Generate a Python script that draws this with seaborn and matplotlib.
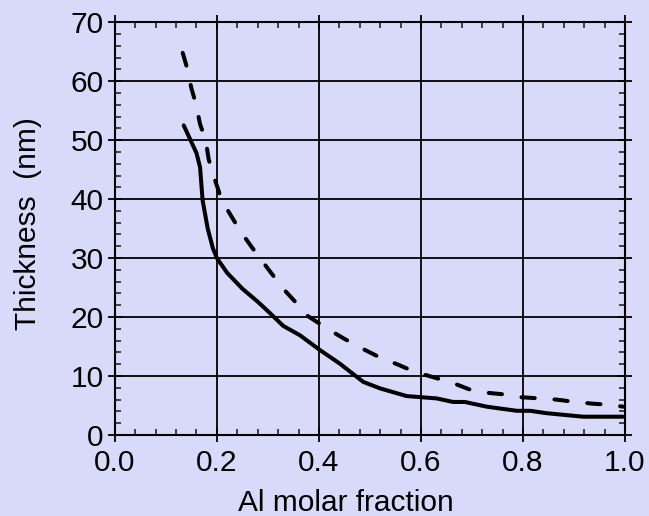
import numpy as np
import pandas as pd
import matplotlib
matplotlib.use("Agg")
import matplotlib.pyplot as plt
import seaborn as sns
from matplotlib.ticker import MultipleLocator

# --- data ---
x_solid = [0.135, 0.16, 0.167, 0.172, 0.182, 0.192, 0.2, 0.22, 0.25, 0.28, 0.3, 0.33,
           0.363, 0.402, 0.441, 0.487, 0.52, 0.572, 0.631, 0.663, 0.686, 0.729,
           0.788, 0.814, 0.846, 0.918, 0.996]
y_solid = [52.5, 47.8, 45.4, 39.8, 35.0, 31.7, 30.0, 27.5, 24.8, 22.6, 21.0, 18.5,
           16.9, 14.4, 12.1, 9.0, 7.9, 6.6, 6.2, 5.6, 5.6, 4.8,
           4.1, 4.1, 3.7, 3.1, 3.1]

x_dash = [0.133, 0.142, 0.15, 0.159, 0.167, 0.178, 0.184, 0.193, 0.206, 0.222, 0.245,
          0.268, 0.3, 0.33, 0.363, 0.376, 0.415, 0.448, 0.484, 0.516, 0.556, 0.588,
          0.624, 0.657, 0.696, 0.725, 0.761, 0.797, 0.833, 0.866, 0.902, 0.938,
          0.974, 0.996]
y_dash = [64.8, 62.1, 58.8, 56.1, 52.7, 50.0, 46.7, 44.1, 40.7, 38.0, 34.7,
          31.9, 28.2, 24.8, 21.7, 20.3, 18.1, 16.4, 14.7, 13.3, 11.9, 10.7,
          9.8, 9.0, 7.7, 7.2, 6.9, 6.4, 6.2, 6.0, 5.6, 5.3,
          5.1, 4.8]

x_ticks = [0.0, 0.2, 0.4, 0.6, 0.8, 1.0]
x_tick_labels = ["0.0", "0.2", "0.4", "0.6", "0.8", "1.0"]
y_ticks = [0, 10, 20, 30, 40, 50, 60, 70]
y_tick_labels = ["0", "10", "20", "30", "40", "50", "60", "70"]

bg = "#D9D9F9"

sns.set_style("ticks")
plt.rcParams["font.family"] = ["Liberation Sans", "DejaVu Sans"]
plt.rcParams["text.color"] = "black"
plt.rcParams["axes.labelcolor"] = "black"

fig = plt.figure(figsize=(6.49, 5.16), dpi=100, facecolor=bg)
ax = fig.add_axes([0.177, 0.157, 0.786, 0.800])
ax.set_facecolor(bg)

df_s = pd.DataFrame({"x": x_solid, "y": y_solid})
df_d = pd.DataFrame({"x": x_dash, "y": y_dash})

sns.lineplot(data=df_s, x="x", y="y", ax=ax, color="black", linewidth=2.9,
             sort=False, estimator=None, solid_capstyle="round", solid_joinstyle="round")
sns.lineplot(data=df_d, x="x", y="y", ax=ax, color="black", linewidth=2.9,
             sort=False, estimator=None, linestyle=(0, (3.3, 4.9)),
             dash_capstyle="round", dash_joinstyle="round")

ax.set_xlim(0, 1.0)
ax.set_ylim(0, 70)
ax.set_xticks(x_ticks)
ax.set_xticklabels(x_tick_labels)
ax.set_yticks(y_ticks)
ax.set_yticklabels(y_tick_labels)
ax.xaxis.set_minor_locator(MultipleLocator(0.04))
ax.yaxis.set_minor_locator(MultipleLocator(2))

ax.grid(True, which="major", color="black", linewidth=1.3)
ax.set_axisbelow(True)

for s in ax.spines.values():
    s.set_visible(True)
    s.set_color("black")
    s.set_linewidth(1.5)

ax.tick_params(axis="both", which="major", direction="inout", length=10, width=1.3,
               labelsize=21.5, colors="black", labelcolor="black", top=True, right=True)
ax.tick_params(axis="both", which="minor", direction="in", length=4.5, width=1.2,
               top=True, right=True)
ax.tick_params(axis="x", which="major", pad=5)
ax.tick_params(axis="y", which="major", pad=3)

ax.set_xlabel("Al molar fraction", fontsize=21.5)
ax.set_ylabel("Thickness  (nm)", fontsize=21.5)
ax.xaxis.label.set_va("center")
ax.yaxis.label.set_va("center")
ax.xaxis.set_label_coords(0.453, -0.165)
ax.yaxis.set_label_coords(-0.171, 0.511)

fig.savefig("out.png", dpi=100, facecolor=bg)
